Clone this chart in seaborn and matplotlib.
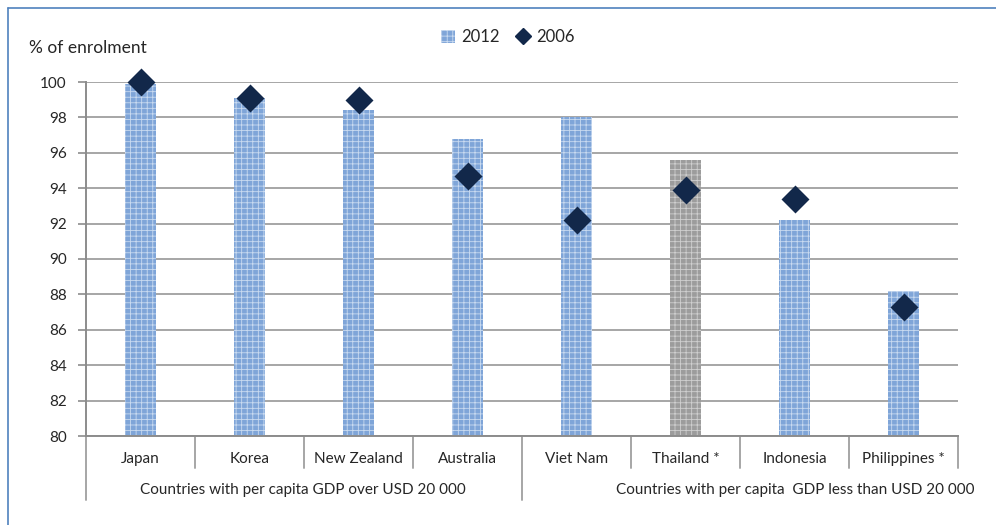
import matplotlib
matplotlib.use("Agg")
import matplotlib.pyplot as plt
import matplotlib.transforms as mtransforms
from matplotlib.lines import Line2D
from matplotlib.patches import Patch
import seaborn as sns
import pandas as pd

countries = ["Japan", "Korea", "New Zealand", "Australia",
             "Viet Nam", "Thailand *", "Indonesia", "Philippines *"]
values_2012 = [99.9, 99.1, 98.4, 96.8, 98.05, 95.6, 92.2, 88.2]
values_2006 = [100.0, 99.1, 99.0, 94.7, 92.2, 93.9, 93.4, 87.3]
groups = ["Countries with per capita GDP over USD 20 000",
          "Countries with per capita  GDP less than USD 20 000"]
group_sizes = [4, 4]
y_ticks = list(range(80, 101, 2))

sns.set_style("white")
plt.rcParams["font.family"] = ["Lato", "DejaVu Sans"]
plt.rcParams["hatch.linewidth"] = 0.6

fig = plt.figure(figsize=(9.96, 5.25), dpi=100)
ax = fig.add_axes([86/996, 1-436/525, (958-86)/996, (436-82)/525])

df = pd.DataFrame({"country": countries, "v2012": values_2012, "v2006": values_2006})

bar_colors = ["#7fa5d8"] * len(countries)
bar_colors[countries.index("Thailand *")] = "#9c9c9c"
sns.barplot(data=df, x="country", y="v2012", hue="country", palette=bar_colors,
            legend=False, width=0.29, ax=ax, linewidth=0, saturation=1)
for p, c in zip(ax.patches, bar_colors):
    p.set_hatch("+++")
    p.set_edgecolor("#c9daf0" if c != "#9c9c9c" else "#cfcfcf")
    p.set_linewidth(0)

sns.pointplot(data=df, x="country", y="v2006", linestyle="none", marker="D",
              markersize=12, color="#12284a", ax=ax)
for ln in ax.lines:
    ln.set_clip_on(False)
    ln.set_zorder(5)
for col in ax.collections:
    col.set_clip_on(False)
    col.set_zorder(5)

ax.set_ylim(80, 100)
ax.set_xlim(-0.5, len(countries) - 0.5)
ax.set_yticks(y_ticks)
ax.set_yticklabels([str(t) for t in y_ticks], fontsize=11)
ax.yaxis.grid(True, color="#a6a6a6", linewidth=1.4)
ax.set_axisbelow(True)
ax.set_xlabel("")
ax.set_ylabel("")
for s in ["top", "right"]:
    ax.spines[s].set_visible(False)
for s in ["left", "bottom"]:
    ax.spines[s].set_color("#8c8c8c")
    ax.spines[s].set_linewidth(1.4)
ax.tick_params(axis="y", left=True, length=6, color="#8c8c8c", width=1.2, pad=8)
ax.tick_params(axis="x", bottom=False, labelsize=11, pad=8)

# category separators and group labels
trans = mtransforms.blended_transform_factory(ax.transData, ax.transAxes)
n = len(countries)
short = -32/354
long_ = -64/354
boundaries = [-0.5]
acc = -0.5
for g in group_sizes:
    acc += g
    boundaries.append(acc)
for i in range(n + 1):
    b = i - 0.5
    y0 = long_ if (b in boundaries[:-1]) else short
    ax.plot([b, b], [0, y0], transform=trans, color="#a6a6a6", lw=1.4, clip_on=False)

ax.text(303/996, 1-490/525, groups[0], transform=fig.transFigure, ha="center",
        va="center", fontsize=11)
ax.text(974/996, 1-490/525, groups[1], transform=fig.transFigure, ha="right",
        va="center", fontsize=11)

fig.text(29/996, 1-48/525, "% of enrolment", fontsize=12.5, va="center", ha="left")

handles = [Patch(facecolor="#7fa5d8", edgecolor="#c9daf0", hatch="+++", linewidth=0),
           Line2D([], [], marker="D", color="#12284a", linestyle="none", markersize=8)]
fig.legend(handles, ["2012", "2006"], loc="center", bbox_to_anchor=(508/996, 1-37/525),
           ncol=2, frameon=False, fontsize=12, handlelength=0.8, handleheight=0.8,
           handletextpad=0.4, columnspacing=1.0)

# figure border
fig.add_artist(Line2D([8/996, 8/996], [0, 1-8/525], color="#4f81bd", lw=1.2))
fig.add_artist(Line2D([8/996, 1], [1-8/525, 1-8/525], color="#4f81bd", lw=1.2))

fig.savefig("out.png", dpi=100)
